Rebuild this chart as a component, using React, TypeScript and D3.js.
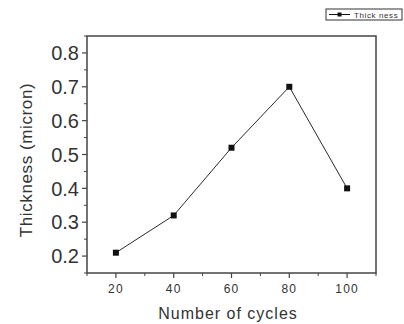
import React from "react";
import * as d3 from "d3";

const cycles = [20, 40, 60, 80, 100];
const thickness = [0.21, 0.32, 0.52, 0.7, 0.4];
const xTicks = [20, 40, 60, 80, 100];
const xMinor = [10, 30, 50, 70, 90, 110];
const yTicks = [0.2, 0.3, 0.4, 0.5, 0.6, 0.7, 0.8];
const yMinor = [0.15, 0.25, 0.35, 0.45, 0.55, 0.65, 0.75, 0.85];
const seriesName = "Thick ness";

export default function App() {
  const W = 404, H = 324;
  const L = 87, R = 376, T = 36, B = 273;
  const x = d3.scaleLinear().domain([10, 110]).range([L, R]);
  const y = d3.scaleLinear().domain([0.15, 0.85]).range([B, T]);
  const line = d3.line<number>().x((_, i) => x(cycles[i])).y((d) => y(d));
  const ink = "#2a2a2a";
  const font = "Arial, 'Liberation Sans', sans-serif";
  return (
    <svg width={W} height={H} style={{ position: "absolute", left: 0, top: 0, background: "#fff" }}>
      <rect x={0} y={0} width={W} height={H} fill="#fff" />
      <rect x={L} y={T} width={R - L} height={B - T} fill="none" stroke="#444" strokeWidth={1.5} />
      {yTicks.map((t) => (
        <g key={"y" + t}>
          <line x1={L - 5} x2={L} y1={y(t)} y2={y(t)} stroke="#444" strokeWidth={1.2} />
          <text x={L - 8} y={y(t)} dy="0.36em" textAnchor="end" fontSize={20} fontFamily={font} fill="#333">
            {t.toFixed(1)}
          </text>
        </g>
      ))}
      {yMinor.map((t) => (
        <line key={"ym" + t} x1={L - 3} x2={L} y1={y(t)} y2={y(t)} stroke="#444" strokeWidth={1} />
      ))}
      {xTicks.map((t) => (
        <g key={"x" + t}>
          <line x1={x(t)} x2={x(t)} y1={B} y2={B + 5} stroke="#444" strokeWidth={1.2} />
          <text x={x(t)} y={B + 20} textAnchor="middle" fontSize={12} letterSpacing={1.2} fontFamily={font} fill="#333">
            {t}
          </text>
        </g>
      ))}
      {xMinor.map((t) => (
        <line key={"xm" + t} x1={x(t)} x2={x(t)} y1={B} y2={B + 3} stroke="#444" strokeWidth={1} />
      ))}
      <path d={line(thickness) || ""} fill="none" stroke={ink} strokeWidth={1} />
      {thickness.map((v, i) => (
        <rect key={"m" + i} x={x(cycles[i]) - 3} y={y(v) - 3} width={6} height={6} fill="#111" />
      ))}
      <text x={228} y={319} textAnchor="middle" fontSize={16} letterSpacing={1} fontFamily={font} fill="#333">
        Number of cycles
      </text>
      <text
        transform={`translate(32, 160) rotate(-90)`}
        textAnchor="middle"
        fontSize={17}
        letterSpacing={0.6}
        fontFamily={font}
        fill="#333"
      >
        Thickness (micron)
      </text>
      <g>
        <rect x={326} y={9} width={76} height={11} fill="#fff" stroke="#333" strokeWidth={1} />
        <line x1={329} x2={350} y1={14.5} y2={14.5} stroke="#111" strokeWidth={1} />
        <rect x={337.5} y={12.5} width={4} height={4} fill="#111" />
        <text x={354} y={17.5} fontSize={8} letterSpacing={0.6} fontFamily={font} fill="#333">
          {seriesName}
        </text>
      </g>
    </svg>
  );
}
